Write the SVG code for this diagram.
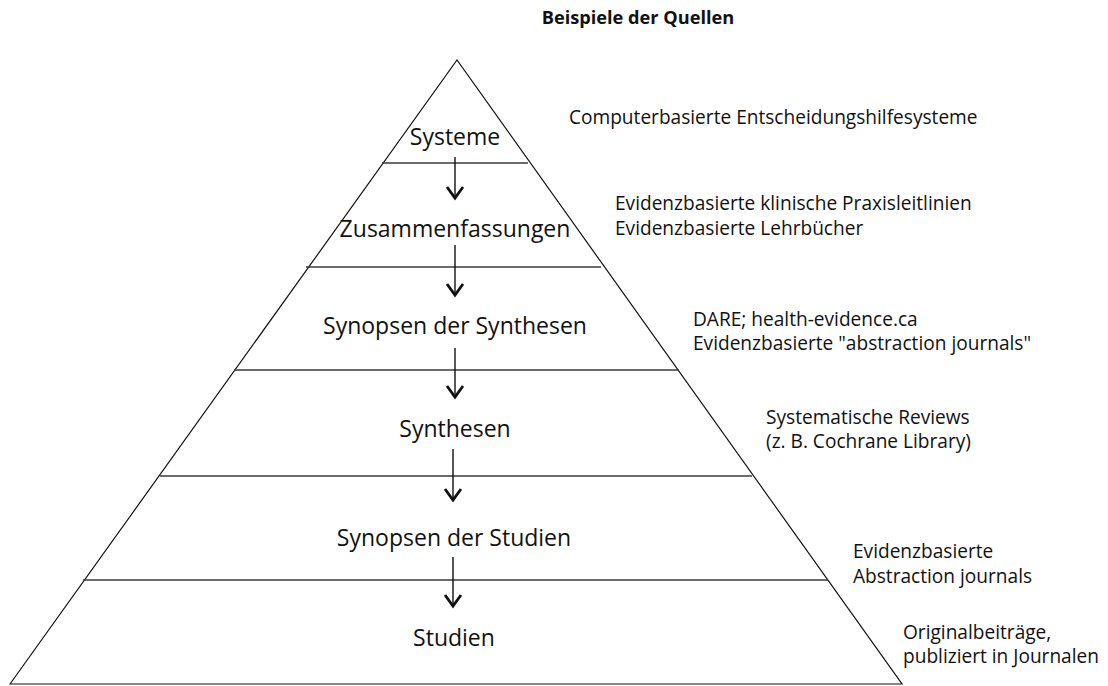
<svg xmlns="http://www.w3.org/2000/svg" width="1108" height="686" viewBox="0 0 1108 686">
<defs>
<style>
.lbl{font-family:"Open Sans","Liberation Sans",sans-serif;font-size:23px;fill:#111;text-anchor:middle}
.src{font-family:"Open Sans","Liberation Sans",sans-serif;font-size:19.1px;fill:#111}
.ttl{font-family:"Open Sans","Liberation Sans",sans-serif;font-size:18.2px;font-weight:bold;fill:#111;text-anchor:middle}
.sep{stroke:#3a3a3a;stroke-width:1.6;fill:none}
.edge{stroke:#111;stroke-width:1.2;fill:none}
.arr{stroke:#111;stroke-width:1.4;fill:none;marker-end:url(#head)}
</style>
<marker id="head" markerWidth="20" markerHeight="20" refX="0" refY="0" markerUnits="userSpaceOnUse" orient="auto" overflow="visible">
<path d="M-11,-8 L0,0 L-11,8" fill="none" stroke="#111" stroke-width="2.8"/>
</marker>
</defs>
<rect width="1108" height="686" fill="#fff"/>
<text class="ttl" x="638" y="24">Beispiele der Quellen</text>
<g id="pyramid">
<path class="edge" d="M10,684 L457,60 L902,684 Z"/>
</g>
<g id="level-systeme">
<line class="sep" x1="382" y1="163" x2="528" y2="163"/>
<text class="lbl" x="455" y="145">Systeme</text>
</g>
<g id="level-zusammenfassungen">
<line class="sep" x1="306" y1="267" x2="601" y2="267"/>
<text class="lbl" x="455" y="237">Zusammenfassungen</text>
</g>
<g id="level-synopsen-synthesen">
<line class="sep" x1="234" y1="370" x2="679" y2="370"/>
<text class="lbl" x="455" y="334">Synopsen der Synthesen</text>
</g>
<g id="level-synthesen">
<line class="sep" x1="160" y1="476" x2="752" y2="476"/>
<text class="lbl" x="455" y="437">Synthesen</text>
</g>
<g id="level-synopsen-studien">
<line class="sep" x1="83" y1="580" x2="828" y2="580"/>
<text class="lbl" x="454" y="546">Synopsen der Studien</text>
</g>
<g id="level-studien">
<text class="lbl" x="454" y="646">Studien</text>
</g>
<g id="sources">
<text class="src" x="569" y="124">Computerbasierte Entscheidungshilfesysteme</text>
<text class="src" x="615" y="210">Evidenzbasierte klinische Praxisleitlinien</text>
<text class="src" x="615" y="235">Evidenzbasierte Lehrbücher</text>
<text class="src" x="693" y="326">DARE; health-evidence.ca</text>
<text class="src" x="693" y="350">Evidenzbasierte "abstraction journals"</text>
<text class="src" x="766" y="424">Systematische Reviews</text>
<text class="src" x="766" y="448">(z. B. Cochrane Library)</text>
<text class="src" x="853" y="558">Evidenzbasierte</text>
<text class="src" x="853" y="583">Abstraction journals</text>
<text class="src" x="903" y="639">Originalbeiträge,</text>
<text class="src" x="903" y="663">publiziert in Journalen</text>
</g>
<g id="connectors">
<line class="arr" x1="455" y1="157" x2="455" y2="198"/>
<line class="arr" x1="455" y1="245" x2="455" y2="295"/>
<line class="arr" x1="455" y1="348" x2="455" y2="397"/>
<line class="arr" x1="453" y1="449" x2="453" y2="500"/>
<line class="arr" x1="453" y1="557" x2="453" y2="606"/>
</g>
</svg>
